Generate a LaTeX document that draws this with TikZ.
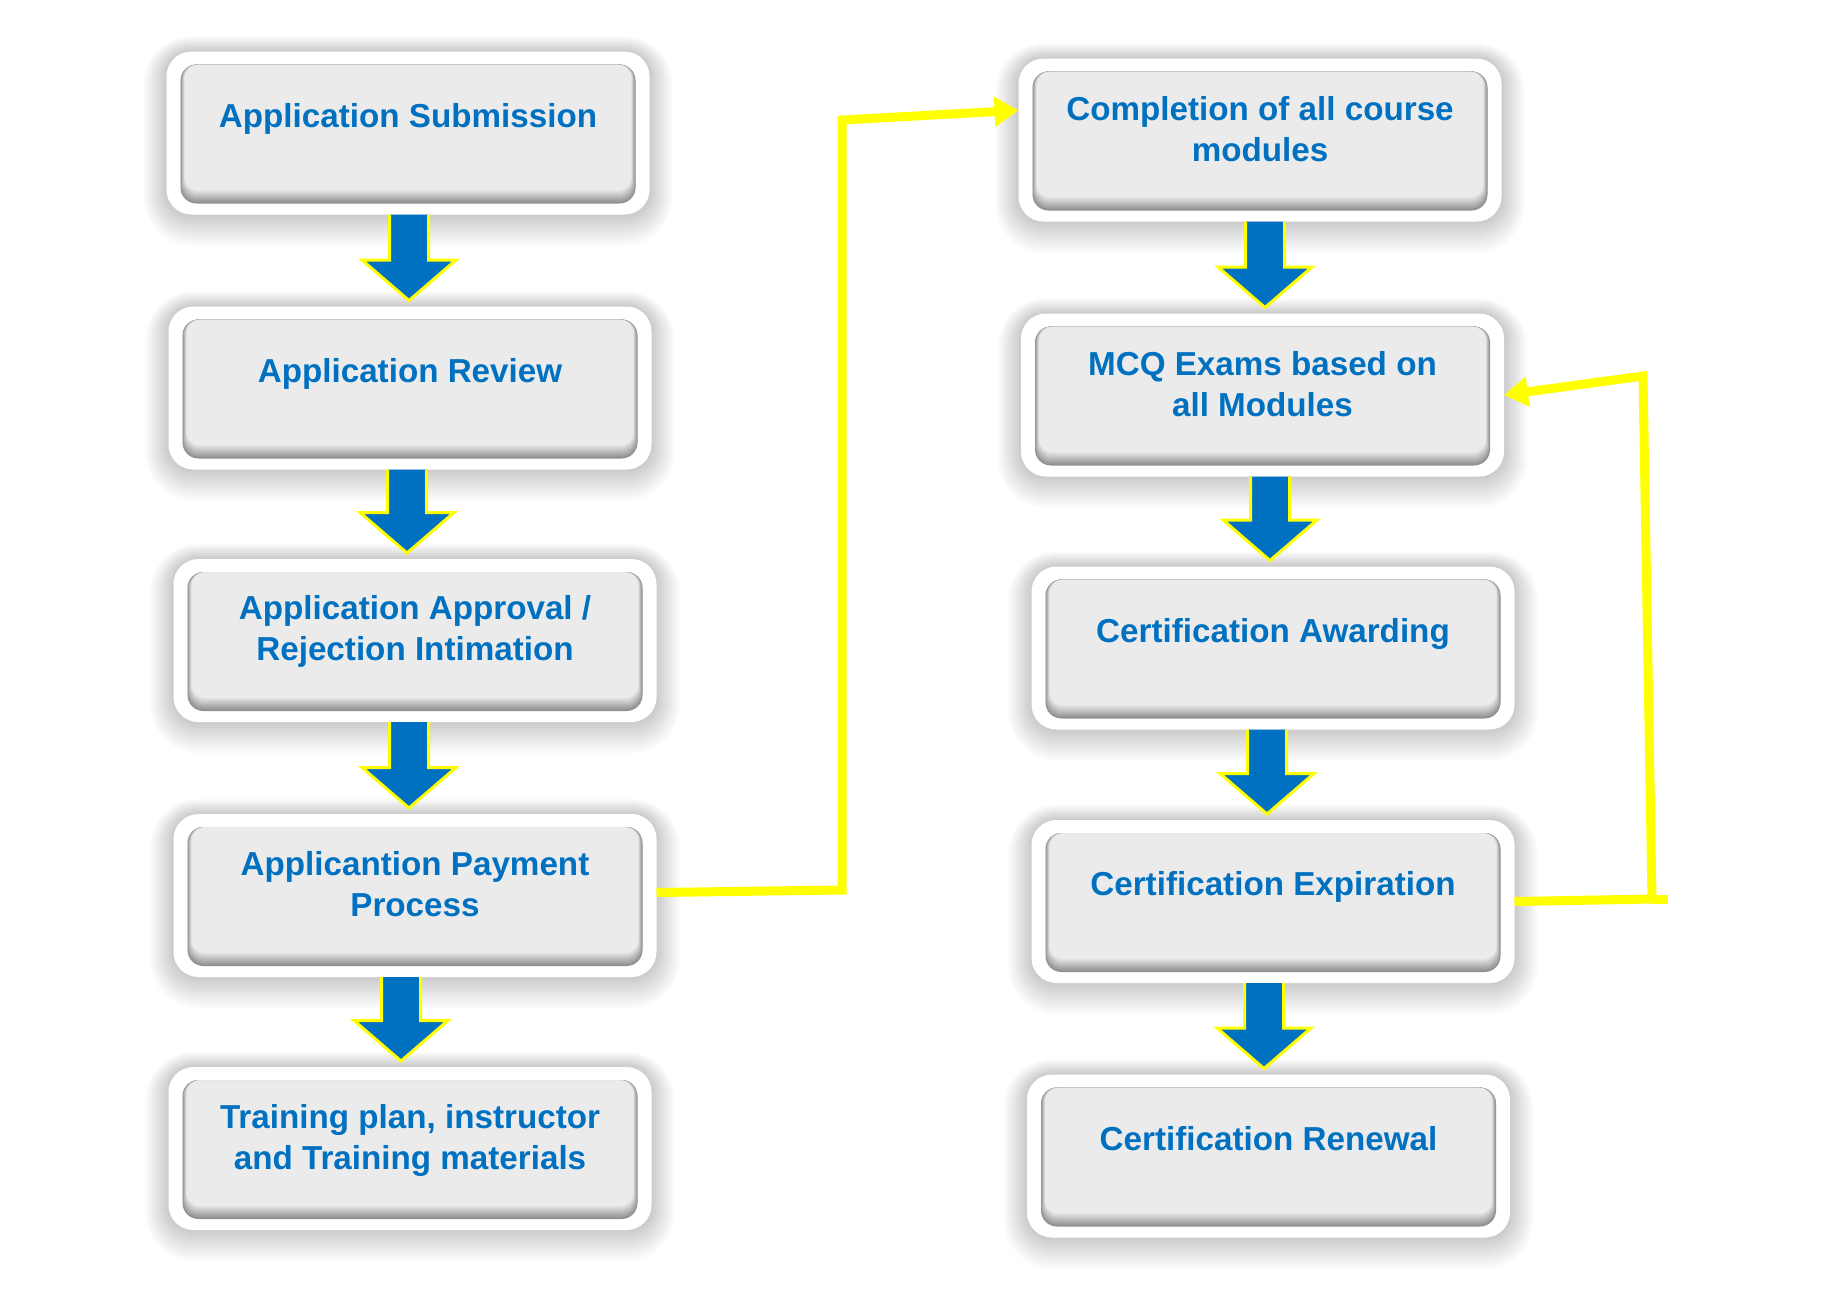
\documentclass[tikz,border=0pt]{standalone}
\usepackage{fontspec}
\setmainfont{Liberation Sans}
\usetikzlibrary{calc,arrows.meta}
\definecolor{flowblue}{HTML}{0070C0}
\definecolor{flowyellow}{HTML}{FFFF00}

\tikzset{
  boxframe/.style={minimum width=483pt, minimum height=163pt, inner sep=0pt, outer sep=0pt},
  boxlabel/.style={text=flowblue, font=\bfseries\fontsize{33.2}{41}\selectfont, align=center, inner sep=0pt},
  blockarrow/.style={fill=flowblue, draw=flowyellow, line width=3pt, line join=miter},
  loopline/.style={draw=flowyellow, line width=9pt, line join=miter},
  looptip/.style={-{Triangle[length=24pt,width=29pt]}}
}

% #1 name, #2 centre, #3 text lift, #4 text
\newcommand\flowbox[4]{%
  \node[boxframe] (#1) at (#2) {};
  \begin{scope}[shift={(#1.center)}]
    % soft drop shadow
    \foreach \k [evaluate=\k as \e using \k*2.3,
                 evaluate=\k as \d using \k*0.8,
                 evaluate=\k as \r using 25+\k*2.3] in {1,...,10}
      \fill[black, opacity=0.018, rounded corners=\r pt]
        (-241.5-\e, -81.5-\e+\d) rectangle (241.5+\e, 81.5+\e+\d);
    % white frame
    \fill[white, rounded corners=25pt] (-241.5,-81.5) rectangle (241.5,81.5);
    % bevelled grey face, darker towards the sides and the bottom
    \foreach \k [evaluate=\k as \p using 44-\k*36/12,
                 evaluate=\k as \sx using \k*0.35,
                 evaluate=\k as \st using \k*0.04,
                 evaluate=\k as \sb using \k*1.1,
                 evaluate=\k as \rc using 16-\k*0.25] in {0,...,12}
      \fill[black!\p, rounded corners=\rc pt]
        (-227.5+\sx, -68.5+\st) rectangle (227.5-\sx, 70.5-\sb);
  \end{scope}
  \node[boxlabel] (#1-text) at ([yshift=#3]#1.center) {#4};
}

% down block arrow from one box to the next, on the column #3
\newcommand\blockarrowdown[3]{%
  \filldraw[blockarrow] let \p1=(#3 |- #1.south), \p2=(#3 |- #2.north) in
    (\x1-19.5pt,\y1) -- (\x1-19.5pt,\y2+46.5pt) -- (\x1-47pt,\y2+46.5pt)
    -- (\x1,\y2+6pt) -- (\x1+47pt,\y2+46.5pt) -- (\x1+19.5pt,\y2+46.5pt)
    -- (\x1+19.5pt,\y1);
}

\begin{document}
\begin{tikzpicture}[x=1pt, y=-1pt]
  \useasboundingbox[fill=white] (0,0) rectangle (1844,1294);

  % left column
  \flowbox{b1}{408,133}{14.2pt}{Application Submission\strut}
  \flowbox{b2}{410,388}{14.2pt}{Application Review\strut}
  \flowbox{b3}{415,640.5}{8.5pt}{Application Approval /\strut\\Rejection Intimation\strut}
  \flowbox{b4}{415,895.5}{8pt}{Applicantion Payment\strut\\Process\strut}
  \flowbox{b5}{410,1148.5}{8pt}{Training plan, instructor\strut\\and Training materials\strut}

  % right column
  \flowbox{b6}{1260,140}{7pt}{Completion of all course\strut\\modules\strut}
  \flowbox{b7}{1262.5,395}{7pt}{MCQ Exams based on\strut\\all Modules\strut}
  \flowbox{b8}{1273,648}{14.2pt}{Certification Awarding\strut}
  \flowbox{b9}{1273,901.5}{14.2pt}{Certification Expiration\strut}
  \flowbox{b10}{1268.5,1156}{14.2pt}{Certification Renewal\strut}

  % arrow columns
  \coordinate (ax1) at (409,0);
  \coordinate (ax2) at (407,0);
  \coordinate (ax3) at (409,0);
  \coordinate (ax4) at (401,0);
  \coordinate (ax5) at (1265,0);
  \coordinate (ax6) at (1270,0);
  \coordinate (ax7) at (1267,0);
  \coordinate (ax8) at (1264,0);

  \blockarrowdown{b1}{b2}{ax1}
  \blockarrowdown{b2}{b3}{ax2}
  \blockarrowdown{b3}{b4}{ax3}
  \blockarrowdown{b4}{b5}{ax4}
  \blockarrowdown{b6}{b7}{ax5}
  \blockarrowdown{b7}{b8}{ax6}
  \blockarrowdown{b8}{b9}{ax7}
  \blockarrowdown{b9}{b10}{ax8}

  % yellow links between the columns
  \coordinate (lk1) at (842,890);
  \coordinate (lk2) at (842,120);
  \draw[loopline, looptip] ([yshift=3pt]b4.east) -- (lk1) -- (lk2) -- (b6.173);

  \coordinate (rk1) at (1652,899);
  \coordinate (rk2) at (1643,376);
  \draw[loopline, looptip] (b9.east) -- (rk1) -- (rk2) -- (b7.east);
  \draw[loopline] (rk1) -- ++(16,0);
\end{tikzpicture}
\end{document}
